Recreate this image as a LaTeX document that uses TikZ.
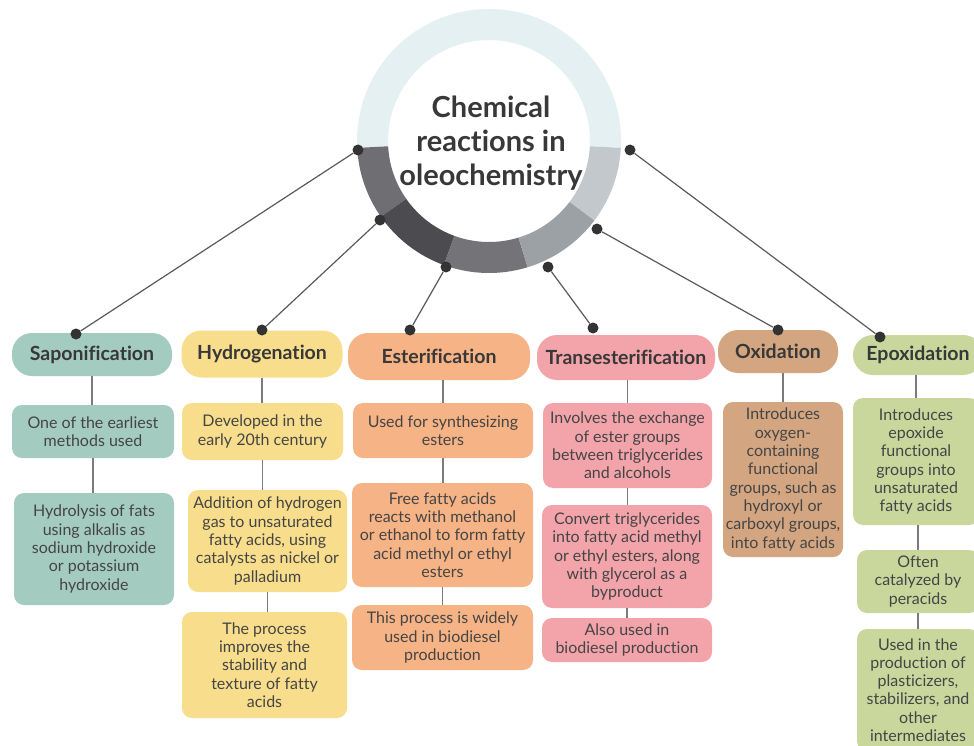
\documentclass[tikz,border=0pt]{standalone}
\usepackage{fontspec}
\setmainfont{Lato}[Ligatures={NoCommon}]
\usetikzlibrary{calc}
\definecolor{sapc}{HTML}{A3CBBF}
\definecolor{hydc}{HTML}{F8DE8C}
\definecolor{estc}{HTML}{F6B385}
\definecolor{trc}{HTML}{F2A4AA}
\definecolor{oxc}{HTML}{D3A681}
\definecolor{epc}{HTML}{C9D79D}
\definecolor{txtc}{HTML}{383838}
\definecolor{bodyc}{HTML}{454545}
\definecolor{ringl}{HTML}{E4F0F2}
\definecolor{segA}{HTML}{6F6F73}
\definecolor{segB}{HTML}{4B4B50}
\definecolor{segC}{HTML}{737378}
\definecolor{segD}{HTML}{9CA1A5}
\definecolor{segE}{HTML}{C2C8CB}
\definecolor{linec}{HTML}{5A5A5A}
\definecolor{dotc}{HTML}{333333}
\newcommand\ringseg[3]{\fill[#3] ($(rc)+(#1:132pt)$) arc[start angle=#1,end angle=#2,radius=132pt] -- ($(rc)+(#2:101pt)$) arc[start angle=#2,end angle=#1,radius=101pt] -- cycle;}
\begin{document}
\begin{tikzpicture}[x=1pt,y=-1pt,
  hdr/.style={rounded corners=20pt, inner sep=0pt, align=center, text=txtc, font=\bfseries\fontsize{19.5}{22}\selectfont},
  box/.style={rounded corners=10pt, inner sep=0pt, align=center, text=bodyc, font=\fontsize{16}{18.3}\selectfont},
  dot/.style={circle, fill=dotc, minimum size=11pt, inner sep=0pt},
  conn/.style={draw=linec, line width=1.2pt},
  vconn/.style={draw=linec!80, line width=1.5pt}]
\useasboundingbox (0,0) rectangle (974,746);
\clip (0,0) rectangle (974,746);
\fill[white] (0,0) rectangle (974,746);
% ring
\coordinate (rc) at (489,141);
\ringseg{-3}{183}{ringl}
\ringseg{183}{215}{segA}
\ringseg{215}{250}{segB}
\ringseg{250}{287}{segC}
\ringseg{287}{323}{segD}
\ringseg{323}{357}{segE}
\node[text=txtc, align=center, font=\bfseries\fontsize{29}{34}\selectfont] (title) at (491,143) {Chemical\\reactions in\\oleochemistry};
% headers
\node[hdr, fill=sapc, minimum width=160pt, minimum height=43pt] (sapH) at (92,354.5) {Saponification};
\node[hdr, fill=hydc, minimum width=161pt, minimum height=47pt] (hydH) at (262,354) {Hydrogenation};
\node[hdr, fill=estc, minimum width=182pt, minimum height=47pt] (estH) at (439,356.5) {Esterification};
\node[hdr, fill=trc, minimum width=178pt, minimum height=45pt] (trH) at (626,357.5) {Transesterification};
\node[hdr, fill=oxc, minimum width=120pt, minimum height=43pt] (oxH) at (778,351.5) {Oxidation};
\node[hdr, fill=epc, minimum width=130pt, minimum height=40pt] (epH) at (918,355) {Epoxidation};
% boxes
\node[box, fill=sapc, minimum width=162pt, minimum height=53pt] (sap1) at (93,431.5) {One of the earliest\\methods used};
\node[box, fill=sapc, minimum width=160pt, minimum height=112pt] (sap2) at (94,549) {Hydrolysis of fats\\using alkalis as\\sodium hydroxide\\or potassium\\hydroxide};
\node[box, fill=hydc, minimum width=161pt, minimum height=57pt] (hyd1) at (262.5,431.5) {Developed in the\\early 20th century};
\node[box, fill=hydc, minimum width=159pt, minimum height=102pt] (hyd2) at (267.5,541) {Addition of hydrogen\\gas to unsaturated\\fatty acids, using\\catalysts as nickel or\\palladium};
\node[box, fill=hydc, minimum width=165pt, minimum height=106pt] (hyd3) at (264.5,665) {The process\\improves the\\stability and\\texture of fatty\\acids};
\node[box, fill=estc, minimum width=180pt, minimum height=55pt] (est1) at (443,430.5) {Used for synthesizing\\esters};
\node[box, fill=estc, minimum width=181pt, minimum height=104pt] (est2) at (442.5,535) {Free fatty acids\\reacts with methanol\\or ethanol to form fatty\\acid methyl or ethyl\\esters};
\node[box, fill=estc, minimum width=181pt, minimum height=65pt] (est3) at (442.5,637.5) {This process is widely\\used in biodiesel\\production};
\node[box, fill=trc, minimum width=169pt, minimum height=85pt] (tr1) at (627.5,445.5) {Involves the exchange\\of ester groups\\between triglycerides\\and alcohols};
\node[box, fill=trc, minimum width=170pt, minimum height=103pt] (tr2) at (627,556.5) {Convert triglycerides\\into fatty acid methyl\\or ethyl esters, along\\with glycerol as a\\byproduct};
\node[box, fill=trc, minimum width=170pt, minimum height=44pt] (tr3) at (627,640) {Also used in\\biodiesel production};
\node[box, fill=oxc, minimum width=120pt, minimum height=155pt] (ox1) at (783,479.5) {Introduces\\oxygen-\\containing\\functional\\groups, such as\\hydroxyl or\\carboxyl groups,\\into fatty acids};
\node[box, fill=epc, minimum width=126pt, minimum height=127pt] (ep1) at (916,461.5) {Introduces\\epoxide\\functional\\groups into\\unsaturated\\fatty acids};
\node[box, fill=epc, minimum width=122pt, minimum height=63pt] (ep2) at (918,581.5) {Often\\catalyzed by\\peracids};
\node[box, fill=epc, minimum width=122pt, minimum height=122pt] (ep3) at (918,690) {Used in the\\production of\\plasticizers,\\stabilizers, and\\other\\intermediates};
% vertical connectors
\draw[vconn] (sapH.south) -- (sapH.south |- sap1.north);
\draw[vconn] (sap1.south) -- (sap1.south |- sap2.north);
\draw[vconn] (hydH.south) -- (hydH.south |- hyd1.north);
\draw[vconn] (hyd1.south) -- (hyd1.south |- hyd2.north);
\draw[vconn] (hyd2.south) -- (hyd2.south |- hyd3.north);
\draw[vconn] (est1.north |- estH.south) -- (est1.north);
\draw[vconn] (est1.south) -- (est1.south |- est2.north);
\draw[vconn] (est2.south) -- (est2.south |- est3.north);
\draw[vconn] (tr1.north |- trH.south) -- (tr1.north);
\draw[vconn] (tr1.south) -- (tr1.south |- tr2.north);
\draw[vconn] (tr2.south) -- (tr2.south |- tr3.north);
\draw[vconn] (ox1.north |- oxH.south) -- (ox1.north);
\draw[vconn] (ep1.north |- epH.south) -- (ep1.north);
\draw[vconn] (ep2.north |- ep1.south) -- (ep2.north);
\draw[vconn] (ep2.south) -- (ep2.south |- ep3.north);
% dots
\node[dot] (c1) at (358,150) {};
\node[dot] (c2) at (380,220) {};
\node[dot] (c3) at (446,267) {};
\node[dot] (c4) at (548,267) {};
\node[dot] (c5) at (597,229) {};
\node[dot] (c6) at (630,150) {};
\node[dot] (h1) at (76,334) {};
\node[dot] (h2) at (262,330) {};
\node[dot] (h3) at (410,330) {};
\node[dot] (h4) at (593,328) {};
\node[dot] (h5) at (778,330) {};
\node[dot] (h6) at (880,337) {};
\draw[conn] (c1) -- (h1);
\draw[conn] (c2) -- (h2);
\draw[conn] (c3) -- (h3);
\draw[conn] (c4) -- (h4);
\draw[conn] (c5) -- (h5);
\draw[conn] (c6) -- (h6);
\end{tikzpicture}
\end{document}
